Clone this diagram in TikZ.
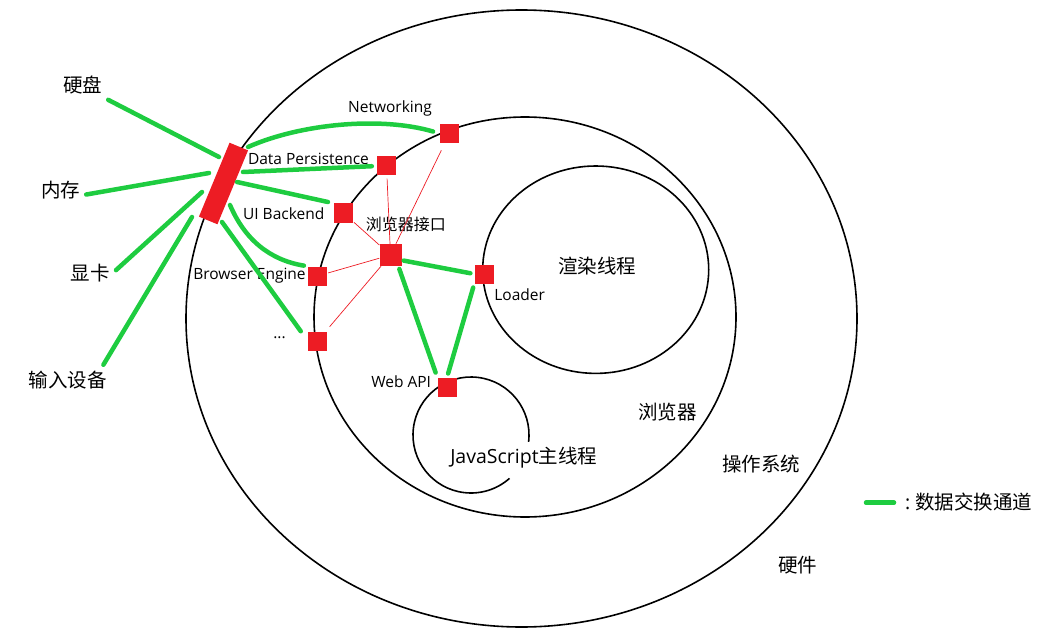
\documentclass[tikz,border=0pt]{standalone}
\usepackage{fontspec}
\setmainfont{Open Sans}
\newfontfamily\cjk{Noto Sans CJK SC}
\usetikzlibrary{calc}

\definecolor{linkgreen}{RGB}{30,204,64}
\definecolor{portred}{RGB}{237,28,36}

\tikzset{
  ring/.style={draw=black, line width=1.6pt},
  port/.style={fill=portred, minimum size=19pt, inner sep=0pt},
  link/.style={draw=linkgreen, line width=4.5pt, line cap=round},
  wire/.style={draw=portred, line width=0.7pt},
  small/.style={font=\fontsize{15.5}{18}\selectfont},
  big/.style={font=\fontsize{19.5}{22}\selectfont\cjk, inner sep=6pt},
}

\begin{document}
\begin{tikzpicture}[x=1pt, y=-1pt]
\useasboundingbox (0,0) rectangle (1049,639);

% Rings
\draw[ring] (521.5,318.5) ellipse [x radius=335.5, y radius=308.5];
\draw[ring] (525,317) ellipse [x radius=211, y radius=200];
\draw[ring] (595.7,269.7) ellipse [x radius=113, y radius=103.7];
\draw[ring] (471,435) ++(6.8:58) arc [start angle=6.8, end angle=-311.6, radius=58];

% Ring labels
\node[big] (render) at (597,266) {渲染线程};
\node[big] (js) at (523.7,458) {{\rmfamily JavaScript}主线程};
\node[big] (browser) at (667.5,411.7) {浏览器};
\node[big] (os) at (761.3,464) {操作系统};
\node[big] (hw) at (797.8,565) {硬件};

% Hardware
\node[big] (disk) at (82.5,85) {硬盘};
\node[big] (mem) at (60.5,190) {内存};
\node[big] (gpu) at (90.3,273.3) {显卡};
\node[big] (input) at (67.5,380) {输入设备};

% Port labels
\node[small] (netlabel) at (390,108) {Networking};
\node[small] (dplabel) at (308.5,158.5) {Data Persistence};
\node[small] (uilabel) at (283.7,213.3) {UI Backend};
\node[small, font=\fontsize{16}{18}\selectfont\cjk] (hublabel) at (405.8,224.3) {浏览器接口};
\node[small] (belabel) at (249.5,275.5) {Browser Engine};
\node[small] (morelabel) at (279.5,338) {...};
\node[small] (loaderlabel) at (519.7,295) {Loader};
\node[small] (weblabel) at (401.2,382) {Web API};

% Bus bar and ports
\node[port, minimum width=80pt, minimum height=20pt, rotate=67.5] (bus) at (223.5,183.5) {};
\node[port] (net) at (449.5,133.5) {};
\node[port] (dp) at (386.5,166) {};
\node[port] (ui) at (343.5,213) {};
\node[port, minimum size=22pt] (hub) at (390.5,255) {};
\node[port] (be) at (317.5,276) {};
\node[port] (more) at (317.5,341) {};
\node[port] (loader) at (484,274) {};
\node[port] (web) at (447,387) {};

% Hardware links
\foreach \hw/\ang/\dx/\dy in {disk/-30/-4.5/-26.5, mem/-10/-14.5/-10.5, gpu/7/-21.5/8.5, input/23/-31.5/33.5}
  \draw[link] (\hw.\ang) -- ($(bus)+(\dx,\dy)$);

% Bus links
\draw[link, shorten >=7pt] ($(bus)+(24.5,-36.5)$) .. controls (300,124) and (380,116) .. (net.west);
\draw[link, shorten >=5pt] ($(bus)+(19.5,-11.5)$) -- (dp.west);
\draw[link, shorten >=6pt] ($(bus)+(13.5,-1.5)$) -- (ui.north west);
\draw[link, shorten >=4pt] ($(bus)+(6.5,21.5)$) .. controls (245,240) and (270,260) .. (be.north west);
\draw[link, shorten >=12pt] ($(bus)+(-1.5,38.5)$) -- (more.west);

% Interface links
\draw[link, shorten <=2pt, shorten >=4pt] (hub.-25) -- (loader.west);
\draw[link, shorten <=3pt, shorten >=5pt] (hub.-55) -- (web.north west);
\draw[link, shorten <=4pt, shorten >=4pt] (loader.south west) -- (web.north);
\foreach \p/\gap in {net/8, dp/3, ui/1, be/1, more/6}
  \draw[wire, shorten >=\gap pt] (hub) -- (\p);

% Legend
\coordinate (legstart) at (866,502.7);
\coordinate (legend) at (894,502.7);
\draw[link] (legstart) -- (legend);
\node[big, anchor=west, inner sep=0pt] (legtext) at (905,501.7) {{\rmfamily :}\hspace{5pt}数据交换通道};

\end{tikzpicture}
\end{document}
